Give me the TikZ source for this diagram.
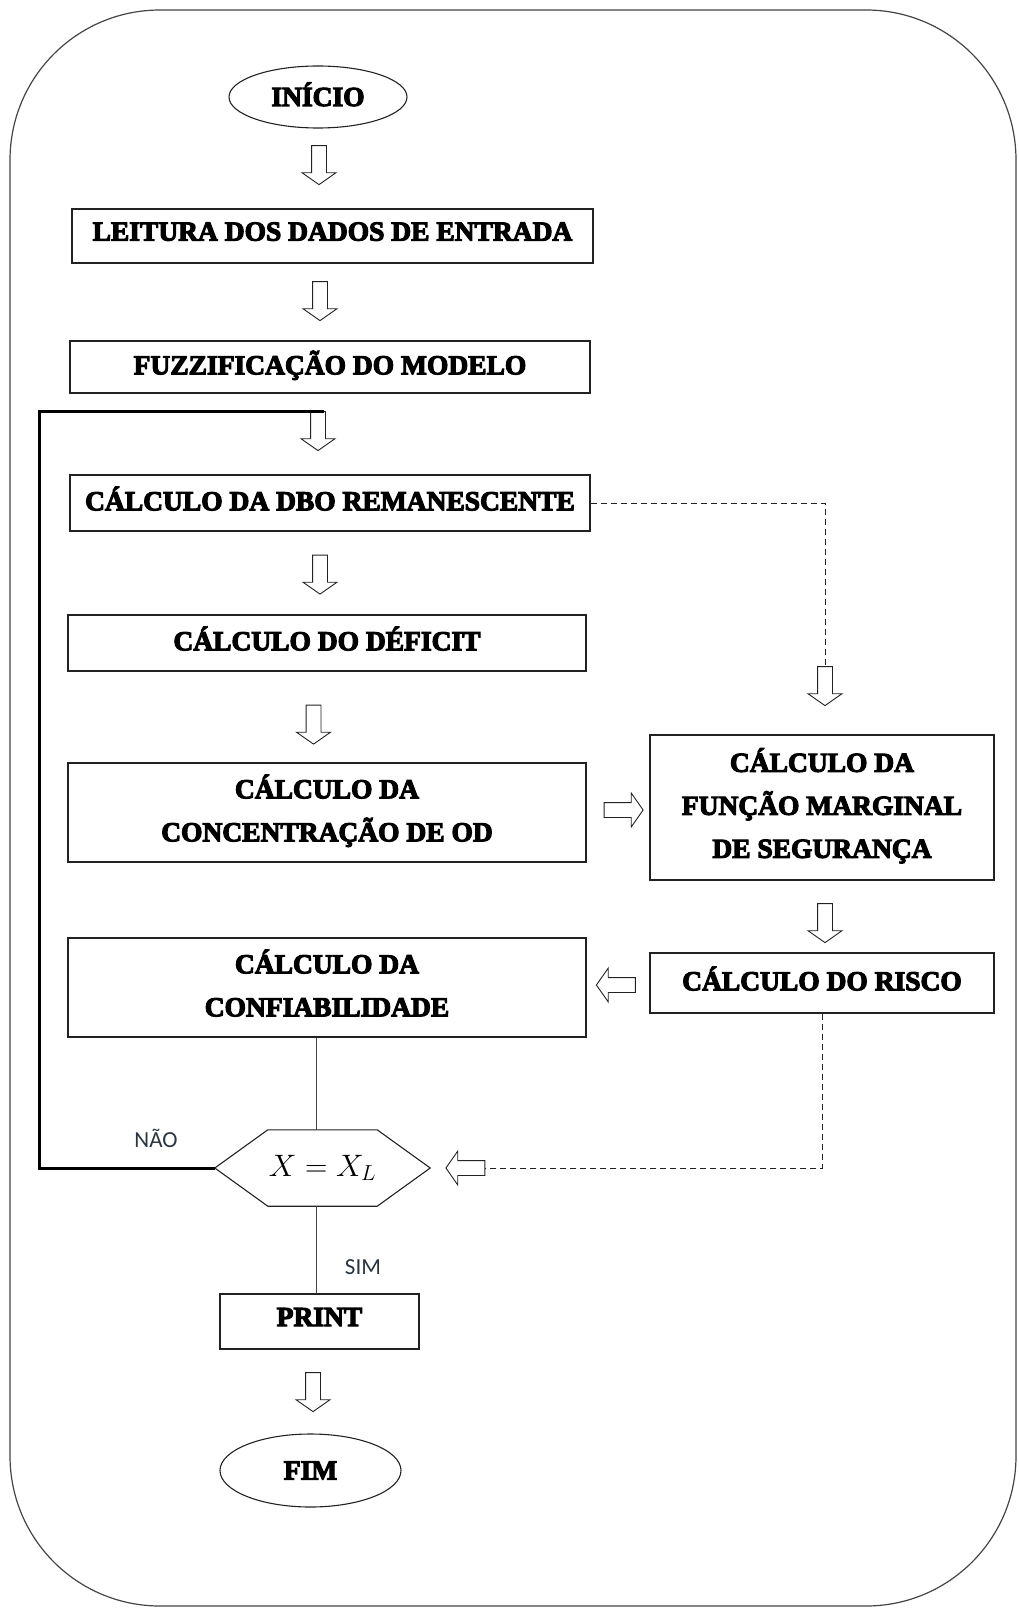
\RequirePackage{fix-cm}
\documentclass[tikz,border=0pt]{standalone}
\usepackage{fontspec}
\usepackage{tikz}
\usetikzlibrary{shapes.geometric,shapes.arrows}
\setmainfont{Liberation Serif}
\newfontfamily\boxfont{Liberation Serif}[FakeBold=4]
\newfontfamily\labfont{Carlito}
\definecolor{L0}{HTML}{222222}
\definecolor{L1}{HTML}{444444}
\definecolor{T0}{HTML}{2B3540}
\tikzset{%
  procbox/.style={draw=L0, line width=1.1pt, rectangle, inner sep=0pt, align=center, text depth=9pt, font=\boxfont\bfseries\fontsize{27.5}{43}\selectfont},
  termbox/.style={draw=L0, line width=1.1pt, ellipse, inner sep=0pt, text height=18pt, text depth=0pt, font=\boxfont\bfseries\fontsize{27.5}{43}\selectfont},
  hollowarrow/.style={draw=L0, line width=0.9pt, single arrow, minimum height=39pt, minimum width=33pt, inner sep=7pt, single arrow head extend=9.5pt, single arrow tip angle=110},
  downarrow/.style={hollowarrow, shape border rotate=270},
  rightarrow/.style={hollowarrow, shape border rotate=0},
  leftarrow/.style={hollowarrow, shape border rotate=180},
  hexnode/.style={inner sep=0pt, minimum width=215pt, minimum height=76pt, font=\fontsize{31}{36}\selectfont},
  hexline/.style={draw=L0, line width=1.1pt, line join=miter},
  linkline/.style={draw=L1, line width=1pt},
  loopline/.style={draw=black, line width=3pt, line join=miter},
  dashlink/.style={draw=L0, line width=1pt, dash pattern=on 6pt off 4pt},
  lab/.style={inner sep=0pt, anchor=base, text=T0, font=\labfont\fontsize{23}{28}\selectfont},
}

\begin{document}
\begin{tikzpicture}[x=1pt, y=-1pt]%
\useasboundingbox (0,0) rectangle (1018,1608);%
% frame
\draw[draw=L1, line width=1.2pt, rounded corners=150pt] (10,10) rectangle (1016,1606);%
% left column
\node[termbox, minimum width=178pt, minimum height=62pt] (inicio) at (318,97) {INÍCIO};%
\node[downarrow] (s1) at (319,162.5) {};%
\node[procbox, minimum width=521pt, minimum height=54pt] (leitura) at (332.5,236) {LEITURA DOS DADOS DE ENTRADA};%
\node[downarrow] (s2) at (320,298.5) {};%
\node[procbox, minimum width=520pt, minimum height=52pt] (fuzz) at (330,367) {FUZZIFICAÇÃO DO MODELO};%
\node[downarrow] (s3) at (318,428.5) {};%
\node[procbox, minimum width=520pt, minimum height=56pt] (dbo) at (330,503) {CÁLCULO DA DBO REMANESCENTE};%
\node[downarrow] (s4) at (320,572) {};%
\node[procbox, minimum width=518pt, minimum height=56pt] (deficit) at (327,643) {CÁLCULO DO DÉFICIT};%
\node[downarrow] (s5) at (313.5,722) {};%
\node[procbox, minimum width=518pt, minimum height=99pt] (concod) at (327,812.5) {CÁLCULO DA\\CONCENTRAÇÃO DE OD};%
\node[procbox, minimum width=518pt, minimum height=99pt] (confiab) at (327,987.5) {CÁLCULO DA\\CONFIABILIDADE};%
% right column
\node[downarrow] (s7) at (825,683.5) {};%
\node[rightarrow] (s6) at (621,810) {};%
\node[procbox, minimum width=344pt, minimum height=145pt] (funcao) at (822,807.5) {CÁLCULO DA\\FUNÇÃO MARGINAL\\DE SEGURANÇA};%
\node[downarrow] (s8) at (825,920.5) {};%
\node[procbox, minimum width=344pt, minimum height=60pt] (risco) at (822,983) {CÁLCULO DO RISCO};%
\node[leftarrow] (s9) at (618.5,985) {};%
% test and end
\node[hexnode] (teste) at (322.5,1168) {$X = X_L$};%
\draw[hexline] (teste.west) -- ([xshift=53pt]teste.north west) -- ([xshift=-53pt]teste.north east) -- (teste.east) -- ([xshift=-53pt]teste.south east) -- ([xshift=53pt]teste.south west) -- cycle;%
\node[leftarrow] (s10) at (468,1168) {};%
\node[procbox, minimum width=199pt, minimum height=55pt] (print) at (319.5,1321.5) {PRINT};%
\node[downarrow] (s11) at (313,1389.5) {};%
\node[termbox, minimum width=181pt, minimum height=73pt] (fim) at (310.5,1470.5) {FIM};%
\node[lab] (nao) at (156,1147) {NÃO};%
\node[lab] (sim) at (363,1274) {SIM};%
% connectors
\coordinate (loopcorner) at (39,411);%
\draw[loopline] (teste.west) -| (loopcorner) -- ([xshift=6pt]loopcorner -| s3.tail);%
\draw[linkline] ([xshift=-6.5pt]teste.north) -- ([xshift=-6.5pt]teste.north |- confiab.south);%
\draw[linkline] ([xshift=-6.5pt]teste.south) -- ([xshift=-6.5pt]teste.south |- print.north);%
\draw[dashlink] (dbo.east) -| (s7.tail);%
\draw[dashlink] (risco.south) |- (s10.tail);%
\end{tikzpicture}
\end{document}
